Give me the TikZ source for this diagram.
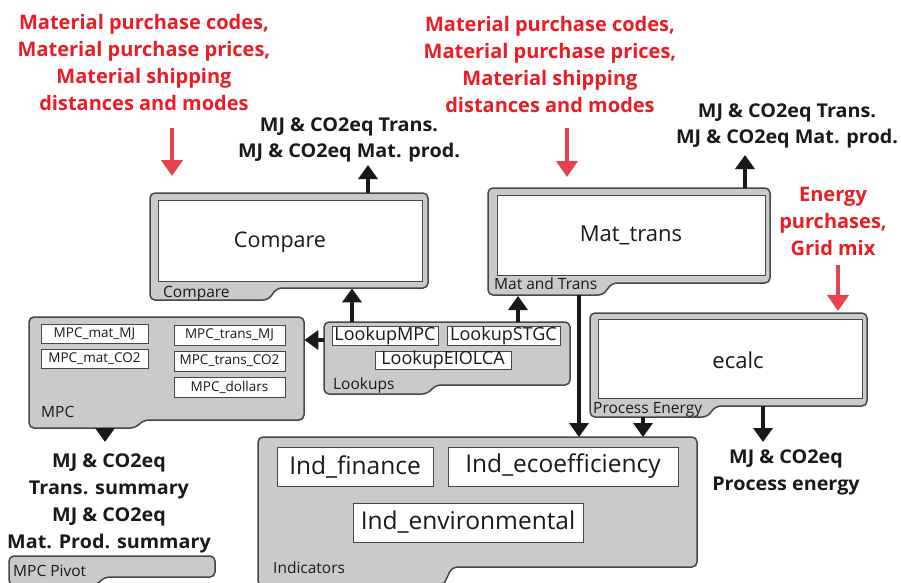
\documentclass[tikz,border=0pt]{standalone}
\usepackage{fontspec}
\setmainfont{Open Sans}
\usetikzlibrary{arrows.meta}
\definecolor{redtxt}{RGB}{236,28,36}
\definecolor{redarr}{RGB}{232,66,78}
\definecolor{boxgray}{RGB}{202,202,202}
\definecolor{edgecol}{RGB}{70,70,70}
\definecolor{inkcol}{RGB}{25,25,25}
\tikzset{
  contstyle/.style={fill=boxgray,draw=edgecol,line width=1.5pt,rounded corners=5pt},
  whitebox/.style={fill=white,draw=edgecol,line width=1pt,inner sep=0pt,text=inkcol},
  contlabel/.style={anchor=base west,inner sep=0pt,text=inkcol,font=\fontsize{15.5}{18}\selectfont},
  redtext/.style={anchor=base,align=center,inner sep=0pt,text=redtxt,font=\bfseries\fontsize{20}{27}\selectfont},
  outtext/.style={anchor=base,align=center,inner sep=0pt,text=inkcol,font=\bfseries\fontsize{19}{26}\selectfont\addfontfeature{FakeStretch=1.04}},
  blkarrow/.style={draw=inkcol,line width=4.5pt,-{Triangle[width=19pt,length=14pt]}},
  redarrow/.style={draw=redarr,line width=4.5pt,-{Triangle[width=21pt,length=16pt]}}
}
% name, left, top, right, bottom right, tab end, bottom tab
\newcommand{\contbox}[7]{%
  \draw[contstyle] (#2,#3) -- (#4,#3) -- (#4,#5) -- (#6+9,#5) -- (#6,#7) -- (#2,#7) -- cycle;
  \node[inner sep=0pt,minimum width={#4-#2},minimum height={#5-#3},anchor=north west] (#1) at (#2,#3) {};}
\begin{document}
\begin{tikzpicture}[x=1pt,y=-1pt]
\useasboundingbox (0,0) rectangle (901,582);
\clip (0,0) rectangle (901,582);

% containers
\contbox{compare}{150}{193}{428}{288}{268}{300}
\contbox{mattrans}{488}{188}{770}{283}{603}{295}
\contbox{ecalc}{590}{313}{867}{406}{707}{417}
\contbox{lookups}{324}{322}{570}{385}{427}{394}
\contbox{mpc}{29}{317}{304}{420}{135}{428}
\contbox{indic}{258}{437}{697}{567}{443}{586}
\contbox{pivot}{9}{556}{215}{577}{96}{585}

% big inner boxes
\node[whitebox,minimum width=264pt,minimum height=81pt] (comparein) at (290,240.5) {};
\node[inner sep=0pt,text=inkcol,font=\fontsize{21.5}{28}\selectfont] (comparetxt) at (280,242) {Compare};
\node[whitebox,minimum width=268pt,minimum height=80pt,font=\fontsize{22}{28}\selectfont] (mattransin) at (631,235) {Mat\_trans};
\node[whitebox,minimum width=264pt,minimum height=79pt] (ecalcin) at (730,358.5) {};
\node[inner sep=0pt,text=inkcol,font=\fontsize{22}{28}\selectfont] (ecalctxt) at (738,360) {ecalc};

% container labels
\node[contlabel] (lblcompare) at (163,297) {Compare};
\node[contlabel] (lblmat) at (494,289) {Mat and Trans};
\node[contlabel] (lblproc) at (593,413) {Process Energy};
\node[contlabel] (lbllook) at (333,389) {Lookups};
\node[contlabel] (lblmpc) at (41,417) {MPC};
\node[contlabel] (lblind) at (273,573) {Indicators};
\node[contlabel] (lblpivot) at (13,576) {MPC Pivot};

% MPC boxes
\begin{scope}[every node/.style={whitebox,font=\fontsize{13.5}{15}\selectfont}]
\node[minimum width=107pt,minimum height=19pt] (matmj) at (94.5,333.5) {MPC\_mat\_MJ};
\node[minimum width=107pt,minimum height=19pt] (matco) at (94.5,358.5) {MPC\_mat\_CO2};
\node[minimum width=111pt,minimum height=20pt] (trmj) at (229.5,335) {MPC\_trans\_MJ};
\node[minimum width=111pt,minimum height=20pt] (trco) at (229.5,361) {MPC\_trans\_CO2};
\node[minimum width=111pt,minimum height=20pt] (dollars) at (229.5,387) {MPC\_dollars};
\end{scope}

% Lookup boxes
\begin{scope}[every node/.style={whitebox,font=\fontsize{18}{19}\selectfont}]
\node[minimum width=106pt,minimum height=19pt] (lmpc) at (385,335.5) {LookupMPC};
\node[minimum width=113pt,minimum height=19pt] (lstgc) at (503.5,335.5) {LookupSTGC};
\node[minimum width=136pt,minimum height=18pt] (leio) at (443,360) {LookupEIOLCA};
\end{scope}

% Indicator boxes
\begin{scope}[every node/.style={whitebox,font=\fontsize{24.5}{28}\selectfont}]
\node[minimum width=156pt,minimum height=39pt] (ifin) at (355,466.5) {Ind\_finance};
\node[minimum width=230pt,minimum height=39pt] (ieco) at (563,466.5) {Ind\_ecoefficiency};
\node[minimum width=230pt,minimum height=39pt] (ienv) at (468,522.5) {Ind\_environmental};
\end{scope}

% texts (anchored at the baseline of the last line)
\node[redtext] (red1) at (144,110) {Material purchase codes,\\Material purchase prices,\\Material shipping\\distances and modes};
\node[redtext] (red2) at (550,112) {Material purchase codes,\\Material purchase prices,\\Material shipping\\distances and modes};
\node[redtext] (red3) at (833,255) {Energy\\purchases,\\Grid mix};
\node[outtext] (outc) at (349,157) {MJ \& CO2eq Trans.\\MJ \& CO2eq Mat. prod.};
\node[outtext] (outm) at (787,143) {MJ \& CO2eq Trans.\\MJ \& CO2eq Mat. prod.};
\node[outtext,font=\bfseries\fontsize{19}{27}\selectfont\addfontfeature{FakeStretch=1.04}] (outmpc) at (109,548) {MJ \& CO2eq\\Trans. summary\\MJ \& CO2eq\\Mat. Prod. summary};
\node[outtext,font=\bfseries\fontsize{19}{27}\selectfont\addfontfeature{FakeStretch=1.04}] (oute) at (786,490) {MJ \& CO2eq\\Process energy};

% arrow end coordinates
\coordinate (tipc) at (368,165);
\coordinate (tipm) at (745,155);
\coordinate (r1s) at (172,128);
\coordinate (r2s) at (567,128);
\coordinate (r3s) at (838,265);
\coordinate (tipe) at (763,442);
\coordinate (tipmpc) at (105,442);
\coordinate (lkup1) at ([xshift=28pt]lookups.north west);
\coordinate (lkup2) at ([xshift=194pt]lookups.north west);
\coordinate (lkleft) at ([yshift=-18pt]lookups.north west);
\coordinate (matdown) at (579,295);
\coordinate (procdown) at (643,417);
\coordinate (mpcdown) at (105,428);

% connectors
\draw[blkarrow] (compare.north -| tipc) -- (tipc);
\draw[blkarrow] (mattrans.north -| tipm) -- (tipm);
\draw[redarrow] (r1s) -- ([yshift=17pt]compare.north -| r1s);
\draw[redarrow] (r2s) -- ([yshift=11pt]mattrans.north -| r2s);
\draw[redarrow] (r3s) -- ([yshift=2pt]ecalc.north -| r3s);
\draw[blkarrow] (lkup1) -- (lkup1 |- compare.south);
\draw[blkarrow] (lkup2) -- ++(0,-26);
\draw[blkarrow] (lkleft) -- (mpc.east |- lkleft);
\draw[blkarrow] (matdown) -- (indic.north -| matdown);
\draw[blkarrow] (procdown) -- (indic.north -| procdown);
\draw[blkarrow] (ecalc.south -| tipe) -- (tipe);
\draw[blkarrow] (mpcdown) -- (tipmpc);
\end{tikzpicture}
\end{document}
